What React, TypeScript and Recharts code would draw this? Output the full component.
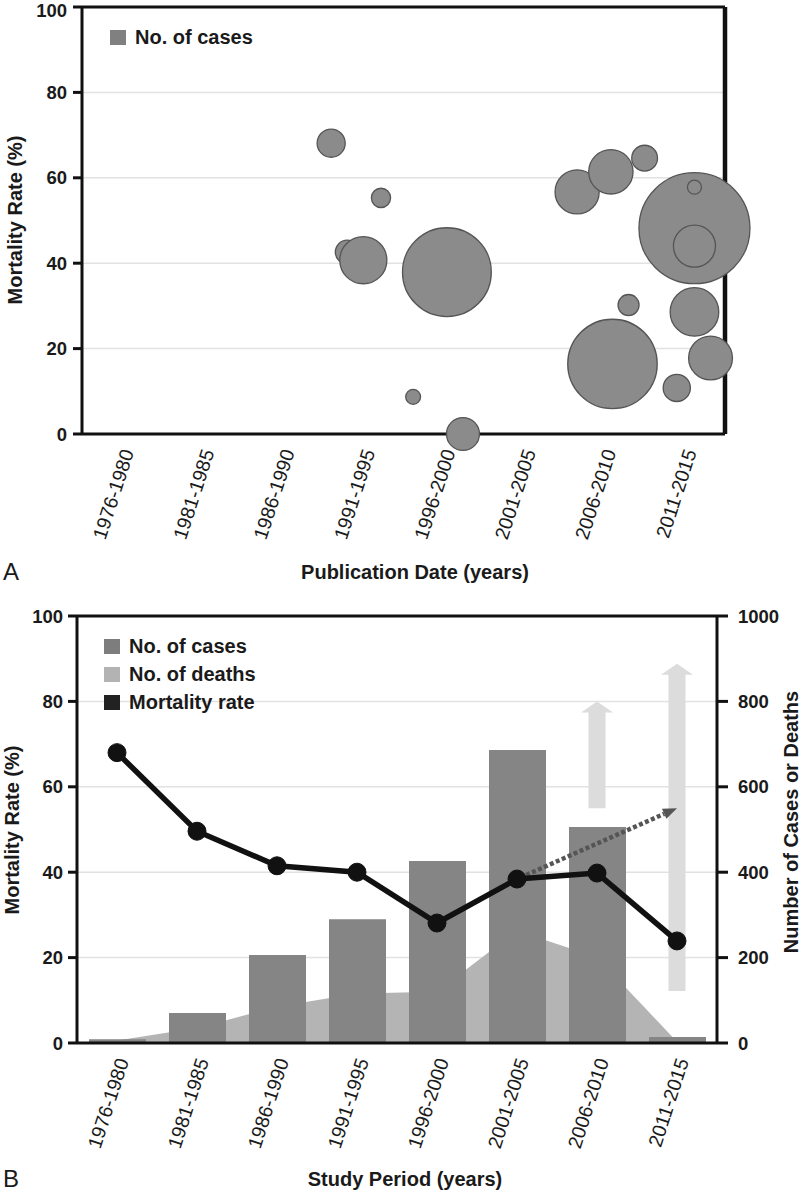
import React from 'react';
import {
  ScatterChart,
  Scatter,
  ComposedChart,
  Bar,
  Area,
  Line,
  XAxis,
  YAxis,
  ZAxis,
  CartesianGrid,
  ReferenceLine,
  Legend,
} from 'recharts';

const FONT = '"Liberation Sans", Arial, Helvetica, sans-serif';
const INK = '#1a1a1a';

// ---- shared categories / ticks ----
const periods = ['1976-1980', '1981-1985', '1986-1990', '1991-1995', '1996-2000', '2001-2005', '2006-2010', '2011-2015'];
const periodStarts = [1976, 1981, 1986, 1991, 1996, 2001, 2006, 2011];
const rateTicks = [0, 20, 40, 60, 80, 100];
const countTicks = [0, 200, 400, 600, 800, 1000];

// ---- Panel A: publications (year, mortality %, number of cases) ----
const pubYear = [1991.5, 1994.6, 1992.5, 1993.5, 1998.7, 1996.6, 1999.7, 2006.8, 2008.9, 2011.0, 2010.0, 2009.0, 2014.1, 2014.1, 2014.1, 2014.1, 2015.1, 2013.0];
const pubRate = [68.1, 55.3, 42.6, 40.7, 37.9, 8.7, 0, 56.7, 61.4, 64.6, 30.2, 16.4, 48.2, 57.8, 44.0, 28.6, 17.8, 10.8];
const pubCases = [32, 15, 23, 90, 320, 9, 44, 79, 80, 27, 18, 325, 500, 8, 72, 96, 78, 30];

// ---- Panel B: study periods ----
const studyCases = [9, 70, 206, 290, 426, 686, 506, 14];
const studyDeaths = [6, 35, 85, 116, 120, 263, 201, 3];
const studyRate = [68.0, 49.6, 41.5, 40.0, 28.1, 38.4, 39.8, 23.9];

// projected ranges (light arrows, right axis) and trend arrow (left axis)
const arrowPeriods = ['2006-2010', '2011-2015'];
const arrowFrom = [550, 122];
const arrowTo = [800, 888];
const trendPeriods = ['2001-2005', '2011-2015'];
const trendRates = [38.4, 55.0];

const legendA = [{ label: 'No. of cases', color: '#808080' }];
const legendB = [
  { label: 'No. of cases', color: '#7d7d7d' },
  { label: 'No. of deaths', color: '#b3b3b3' },
  { label: 'Mortality rate', color: '#222222' },
];

const topTicks = periodStarts.map((s) => s + 2.5);

const scatterData = pubYear.map((year, i) => ({ year, rate: pubRate[i], cases: pubCases[i] }));
const studyData = periods.map((period, i) => ({
  period,
  cases: studyCases[i],
  deaths: studyDeaths[i],
  rate: studyRate[i],
}));

const RotTick = (props: any) => {
  const { x, y, index } = props;
  return (
    <text
      transform={`translate(${x + 12},${y + 18}) rotate(-72)`}
      textAnchor="end"
      fontSize={19.5}
      fill={INK}
      fontFamily={FONT}
    >
      {periods[index]}
    </text>
  );
};

const Bubble = (props: any) => {
  const { cx, cy } = props;
  const r = props.size != null ? Math.sqrt(props.size / Math.PI) : props.width / 2;
  return <circle cx={cx} cy={cy} r={r} fill="#8b8b8b" stroke="#555" strokeWidth={1.3} />;
};

const BlockArrow = (p: any) => {
  const { x1, y1, x2, y2 } = p;
  const x = (x1 + x2) / 2;
  const yb = Math.max(y1, y2);
  const yt = Math.min(y1, y2);
  const sw = 8.5;
  const hw = 16;
  const hl = 11;
  const pts = [
    [x - sw, yb],
    [x - sw, yt + hl],
    [x - hw, yt + hl],
    [x, yt],
    [x + hw, yt + hl],
    [x + sw, yt + hl],
    [x + sw, yb],
  ];
  return <polygon points={pts.map((q) => q.join(',')).join(' ')} fill="#dcdcdc" />;
};

const DottedArrow = (p: any) => {
  const { x1, y1, x2, y2 } = p;
  const dx = x2 - x1;
  const dy = y2 - y1;
  const len = Math.hypot(dx, dy) || 1;
  const ux = dx / len;
  const uy = dy / len;
  const hl = 14;
  const hw = 5.5;
  const bx = x2 - ux * hl;
  const by = y2 - uy * hl;
  const sx = x1 + ux * 10;
  const sy = y1 + uy * 10;
  return (
    <g>
      <line x1={sx} y1={sy} x2={bx} y2={by} stroke="#555" strokeWidth={4.5} strokeDasharray="4 2.5" />
      <polygon
        points={`${x2},${y2} ${bx - uy * hw},${by + ux * hw} ${bx + uy * hw},${by - ux * hw}`}
        fill="#555"
      />
    </g>
  );
};

const makeLegend = (items: { label: string; color: string }[], rowH: number) => () => (
  <div style={{ fontFamily: FONT }}>
    {items.map((it) => (
      <div key={it.label} style={{ display: 'flex', alignItems: 'center', height: rowH }}>
        <span style={{ display: 'inline-block', width: 16, height: 15, background: it.color, marginRight: 9 }} />
        <span style={{ fontSize: 20, fontWeight: 'bold', color: INK, lineHeight: '20px' }}>{it.label}</span>
      </div>
    ))}
  </div>
);

const tickStyle = { fontSize: 18.5, fontWeight: 'bold', fill: INK, fontFamily: FONT } as any;
const axisLine3 = { stroke: '#111', strokeWidth: 3 };

const abs = (left: number, top: number, extra: React.CSSProperties = {}): React.CSSProperties => ({
  position: 'absolute',
  left,
  top,
  transform: 'translate(-50%, -50%)',
  whiteSpace: 'nowrap',
  fontFamily: FONT,
  color: INK,
  ...extra,
});

export default function App() {
  return (
    <div style={{ position: 'absolute', left: 0, top: 0, width: 800, height: 1191, background: '#fff', overflow: 'hidden' }}>
      {/* Panel A */}
      <div style={{ position: 'absolute', left: 0, top: 0 }}>
        <ScatterChart width={800} height={600} margin={{ top: 7, right: 67, left: 0, bottom: 56 }}>
          <CartesianGrid yAxisId="left" vertical={false} stroke="#e2e2e2" strokeWidth={1.5} />
          <XAxis
            type="number"
            dataKey="year"
            domain={[1976, 2016]}
            ticks={topTicks}
            interval={0}
            height={110}
            tickLine={false}
            tickSize={0}
            tickMargin={0}
            axisLine={axisLine3}
            tick={<RotTick />}
          />
          <YAxis
            yAxisId="left"
            type="number"
            dataKey="rate"
            domain={[0, 100]}
            ticks={rateTicks}
            width={82}
            tickSize={9}
            tickMargin={6}
            tickLine={{ stroke: '#111', strokeWidth: 3 }}
            axisLine={axisLine3}
            tick={tickStyle}
          />
          <YAxis
            yAxisId="right"
            orientation="right"
            type="number"
            domain={[0, 100]}
            ticks={rateTicks}
            width={8}
            tickSize={8}
            tickMargin={0}
            tickFormatter={() => ''}
            tickLine={{ stroke: '#111', strokeWidth: 3 }}
            axisLine={{ stroke: '#111', strokeWidth: 4.5 }}
          />
          <ZAxis type="number" dataKey="cases" domain={[0, 500]} range={[0, 9677]} />
          <ReferenceLine yAxisId="left" y={100} stroke="#111" strokeWidth={3} />
          <Legend
            layout="vertical"
            align="center"
            verticalAlign="middle"
            wrapperStyle={{ left: 110, top: 22, width: 'auto', height: 'auto' }}
            content={makeLegend(legendA, 30)}
          />
          <Scatter
            name="No. of cases"
            yAxisId="left"
            data={scatterData}
            shape={<Bubble />}
            zIndex={1000}
            isAnimationActive={false}
          />
        </ScatterChart>
      </div>

      {/* Panel B */}
      <div style={{ position: 'absolute', left: 0, top: 600 }}>
        <ComposedChart width={800} height={591} data={studyData} margin={{ top: 16, right: 0, left: 0, bottom: 28 }}>
          <CartesianGrid yAxisId="left" vertical={false} stroke="#e2e2e2" strokeWidth={1.5} />
          <XAxis
            dataKey="period"
            type="category"
            height={120}
            interval={0}
            tickLine={false}
            tickSize={0}
            tickMargin={0}
            axisLine={axisLine3}
            tick={<RotTick />}
          />
          <YAxis
            yAxisId="left"
            domain={[0, 100]}
            ticks={rateTicks}
            width={77}
            tickSize={9}
            tickMargin={5}
            tickLine={{ stroke: '#111', strokeWidth: 3 }}
            axisLine={axisLine3}
            tick={tickStyle}
          />
          <YAxis
            yAxisId="right"
            orientation="right"
            domain={[0, 1000]}
            ticks={countTicks}
            width={83}
            tickSize={11}
            tickMargin={10}
            tickLine={{ stroke: '#111', strokeWidth: 3 }}
            axisLine={axisLine3}
            tick={{ ...tickStyle, textAnchor: 'start' }}
          />
          <ReferenceLine yAxisId="left" y={100} stroke="#111" strokeWidth={3} />
          <Area
            name="No. of deaths"
            yAxisId="right"
            dataKey="deaths"
            type="linear"
            fill="#b4b4b4"
            fillOpacity={1}
            stroke="none"
            isAnimationActive={false}
          />
          <Bar
            name="No. of cases"
            yAxisId="right"
            dataKey="cases"
            fill="#858585"
            barSize={57}
            isAnimationActive={false}
          />
          {arrowPeriods.map((p, i) => (
            <ReferenceLine
              key={p}
              yAxisId="right"
              segment={[
                { x: p, y: arrowFrom[i] },
                { x: p, y: arrowTo[i] },
              ]}
              shape={BlockArrow}
            />
          ))}
          <ReferenceLine
            yAxisId="left"
            segment={[
              { x: trendPeriods[0], y: trendRates[0] },
              { x: trendPeriods[1], y: trendRates[1] },
            ]}
            shape={DottedArrow}
          />
          <Line
            name="Mortality rate"
            yAxisId="left"
            dataKey="rate"
            type="linear"
            stroke="#111"
            strokeWidth={5.5}
            dot={{ r: 9, fill: '#111', stroke: '#111', strokeWidth: 1 }}
            isAnimationActive={false}
          />
          <Legend
            layout="vertical"
            align="center"
            verticalAlign="middle"
            wrapperStyle={{ left: 104, top: 32, width: 'auto', height: 'auto' }}
            content={makeLegend(legendB, 28)}
          />
        </ComposedChart>
      </div>

      {/* Titles */}
      <div style={abs(15, 220, { transform: 'translate(-50%, -50%) rotate(-90deg)', fontSize: 20, fontWeight: 'bold' })}>
        Mortality Rate (%)
      </div>
      <div style={abs(11, 572, { fontSize: 24 })}>A</div>
      <div style={abs(415, 572, { fontSize: 20, fontWeight: 'bold' })}>Publication Date (years)</div>

      <div style={abs(12, 830, { transform: 'translate(-50%, -50%) rotate(-90deg)', fontSize: 20, fontWeight: 'bold' })}>
        Mortality Rate (%)
      </div>
      <div style={abs(791, 822, { transform: 'translate(-50%, -50%) rotate(-90deg)', fontSize: 20, fontWeight: 'bold' })}>
        Number of Cases or Deaths
      </div>
      <div style={abs(11, 1179, { fontSize: 24 })}>B</div>
      <div style={abs(405, 1179, { fontSize: 20, fontWeight: 'bold' })}>Study Period (years)</div>
    </div>
  );
}
